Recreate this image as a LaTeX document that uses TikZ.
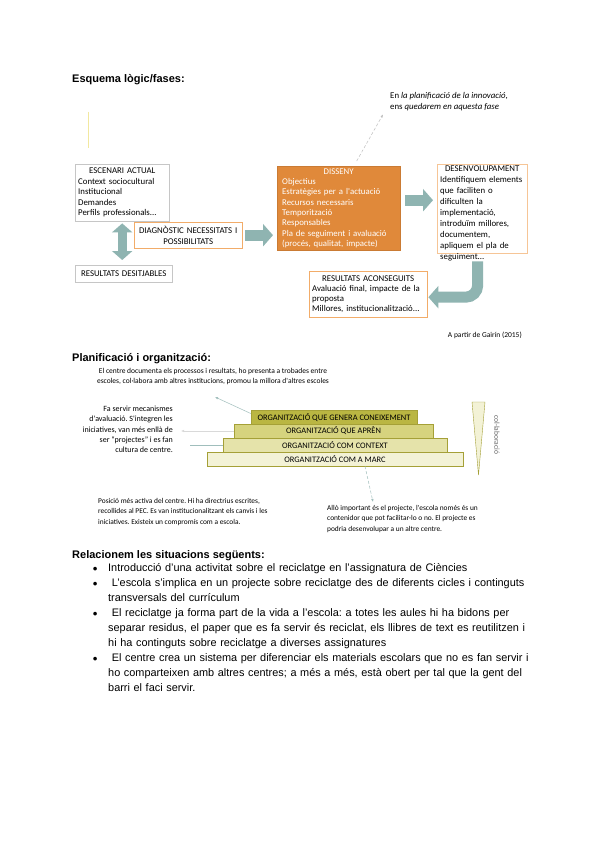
\documentclass[tikz,border=0pt]{standalone}
\usepackage{fontspec}
\setmainfont{Liberation Sans}
\newfontfamily\calfont{Carlito}
\usetikzlibrary{arrows.meta, positioning}
\frenchspacing

\definecolor{dissenyor}{RGB}{224,137,58}
\definecolor{lineor}{RGB}{242,172,105}
\definecolor{tealar}{RGB}{143,180,177}
\definecolor{pyrA}{RGB}{186,182,66}
\definecolor{pyrB}{RGB}{214,211,126}
\definecolor{pyrC}{RGB}{229,227,170}
\definecolor{pyrD}{RGB}{243,242,214}
\definecolor{pyrline}{RGB}{165,160,55}
\definecolor{hintline}{RGB}{160,190,188}
\definecolor{markyel}{RGB}{242,232,160}

\newcommand{\blt}{\makebox[15pt][l]{\hspace*{-0.5pt}{\fontsize{8.5}{8.5}\selectfont ●}}}

\begin{document}
\begin{tikzpicture}[x=1pt, y=-1pt,
  heading/.style={anchor=base west, inner sep=0pt,
                  font=\bfseries\fontsize{11}{13}\selectfont},
  box/.style={draw=gray!45, anchor=north west, inner xsep=3pt, inner ysep=0pt,
              align=left, font=\calfont\fontsize{8.8}{10.5}\selectfont},
  obox/.style={box, draw=lineor},
  design/.style={box, draw=dissenyor!90!black, fill=dissenyor, text=white},
  blockarrow/.style={line width=11pt, tealar,
                     -{Triangle[length=10pt, width=22pt]}},
  pyr/.style={draw=pyrline, line width=0.5pt, minimum height=14pt,
              inner sep=0pt, font=\calfont\fontsize{8.4}{9}\selectfont},
  note/.style={anchor=north west, inner sep=0pt, align=left,
               font=\calfont\fontsize{7.5}{10}\selectfont},
  hint/.style={hintline, line width=0.5pt, -{Latex[length=3pt, width=2.5pt]}}
]
\fill[white] (0,0) rectangle (600,848);
\useasboundingbox (0,0) rectangle (600,848);

% esquema logic
\node[heading] (h1) at (72,83) {Esquema lògic/fases:};
\draw[markyel, line width=1pt] (88,112) -- (88,148);
\node[note, font=\calfont\fontsize{8.8}{11.5}\selectfont] (fase) at (390,92)
  {En \textit{la planificació de la innovació},\\ ens \textit{quedarem en aquesta fase}};

\node[box, text width=88pt, minimum height=57pt] (escenari) at (75,164)
  {{\centering ESCENARI ACTUAL\par}Context sociocultural\\ Institucional\\
   Demandes\\ Perfils professionals...};
\node[box, text width=91pt, minimum height=17pt, align=center] (desitjables) at (75,265)
  {RESULTATS DESITJABLES};
\node[obox, text width=102pt, minimum height=26pt, align=center] (diag) at (134,222)
  {DIAGNÒSTIC NECESSITATS I\\ POSSIBILITATS};
\node[design, inner xsep=5pt, text width=113pt, minimum height=84pt,
      font=\calfont\fontsize{8.8}{10.3}\selectfont] (disseny) at (277,166)
  {{\centering DISSENY\par}Objectius\\ Estratègies per a l'actuació\\ Recursos necessaris\\
   Temporització\\ Responsables\\ Pla de seguiment i avaluació\\ (procés, qualitat, impacte)};
\node[obox, draw=lineor!70, minimum width=90pt, minimum height=89pt] (desenv) at (437,164) {};
\node[note, anchor=north, text width=84pt, font=\calfont\fontsize{8.8}{11}\selectfont]
  (desenvtxt) at ([yshift=-1.5pt]desenv.north)
  {{\centering DESENVOLUPAMENT\par}Identifiquem elements\\ que faciliten o\\ dificulten la\\
   implementació,\\ introduïm millores,\\ documentem,\\ apliquem el pla de\\ seguiment...};
\node[obox, text width=112pt, minimum height=46pt,
      font=\calfont\fontsize{8.8}{10}\selectfont] (assolits) at (309,271)
  {{\centering RESULTATS ACONSEGUITS\par}Avaluació final, impacte de la\\ proposta\\
   Millores, institucionalització...};
\node[note, anchor=north east] (gairin) at (522,332) {A partir de Gairín (2015)};

\draw[blockarrow, {Triangle[length=9pt, width=20pt]}-{Triangle[length=9pt, width=20pt]},
      line width=9pt, shorten <=2pt, shorten >=5pt]
  (escenari.south) -- (escenari.south |- desitjables.north);
\draw[blockarrow, shorten <=3pt, shorten >=4pt] (diag.east) -- (disseny.west |- diag.east);
\draw[blockarrow, shorten <=5pt, shorten >=4pt]
  ([yshift=8pt]disseny.east) -- ([yshift=8pt]disseny.east -| desenv.west);
\draw[blockarrow, rounded corners=12pt, shorten >=1pt]
  ([xshift=-4.5pt, yshift=-8pt]desenv.south) |- ([yshift=-3pt]assolits.east);
\draw[hint, densely dashed, gray!50] ([xshift=18pt, yshift=5pt]disseny.north)
  -- ([xshift=-7pt, yshift=-3pt]fase.south west);

% planificacio
\node[heading] (h2) at (72,361) {Planificació i organització:};
\node[note, anchor=north, align=center] (centre) at (213,368)
  {El centre documenta els processos i resultats, ho presenta a trobades entre\\
   escoles, col·labora amb altres institucions, promou la millora d'altres escoles};

\node[pyr, fill=pyrD, minimum width=256pt] (marc) at (335,459) {ORGANITZACIÓ COM A MARC};
\node[pyr, fill=pyrC, minimum width=224pt] (context) at (335,445) {ORGANITZACIÓ COM CONTEXT};
\node[pyr, fill=pyrB, minimum width=199pt] (apren) at (333.5,431) {ORGANITZACIÓ QUE APRÈN};
\node[pyr, fill=pyrA, minimum width=166pt] (genera) at (334,417.5)
  {ORGANITZACIÓ QUE GENERA CONEIXEMENT};

\filldraw[fill=pyrD, draw=pyrline, line width=0.4pt] (472,402) -- (485,402) -- (478.5,475) -- cycle;
\node[note, anchor=center, rotate=-90, text=gray!80!black] (colab) at (497,435) {col·laboració};

\node[note, anchor=north east, align=right, font=\calfont\fontsize{8}{10.2}\selectfont]
  (mecan) at (173,406)
  {Fa servir mecanismes\\ d'avaluació. S'integren les\\ iniciatives, van més enllà de\\
   ser “projectes” i es fan\\ cultura de centre.};
\node[note, font=\calfont\fontsize{7.4}{10.5}\selectfont] (posicio) at (98,498)
  {Posició més activa del centre. Hi ha directrius escrites,\\
   recollides al PEC. Es van institucionalitzant els canvis i les\\
   iniciatives. Existeix un compromís com a escola.};
\node[note, font=\calfont\fontsize{7.4}{10.5}\selectfont] (allo) at (327,505)
  {Allò important és el projecte, l'escola només és un\\
   contenidor que pot facilitar-lo o no. El projecte es\\
   podria desenvolupar a un altre centre.};

\coordinate (t1) at (215,397);
\coordinate (t3) at (190,445);
\coordinate (t4) at (373,502);
\draw[hint] ([yshift=4pt]genera.west) -- (t1);
\draw[hint, gray!30, shorten >=8pt] (apren.west) -- (mecan.east |- apren.west);
\draw[hintline, line width=0.6pt] (context.west) -- (t3);
\draw[hint, densely dashed] ([xshift=30pt]marc.south) -- (t4);

% situacions
\node[heading] (h3) at (72,558) {Relacionem les situacions següents:};
\node[anchor=north west, inner sep=0pt, text width=460pt, align=left,
      font=\fontsize{10.9}{15}\selectfont] (situacions) at (93,560.5)
  {\strut\blt Introducció d'una activitat sobre el reciclatge en l'assignatura de Ciències\\
   \blt\ L'escola s'implica en un projecte sobre reciclatge des de diferents cicles i continguts\\
   \hspace*{15pt}transversals del currículum\\
   \blt\ El reciclatge ja forma part de la vida a l'escola: a totes les aules hi ha bidons per\\
   \hspace*{15pt}separar residus, el paper que es fa servir és reciclat, els llibres de text es reutilitzen i\\
   \hspace*{15pt}hi ha continguts sobre reciclatge a diverses assignatures\\
   \blt\ El centre crea un sistema per diferenciar els materials escolars que no es fan servir i\\
   \hspace*{15pt}ho comparteixen amb altres centres; a més a més, està obert per tal que la gent del\\
   \hspace*{15pt}barri el faci servir.};
\end{tikzpicture}
\end{document}
